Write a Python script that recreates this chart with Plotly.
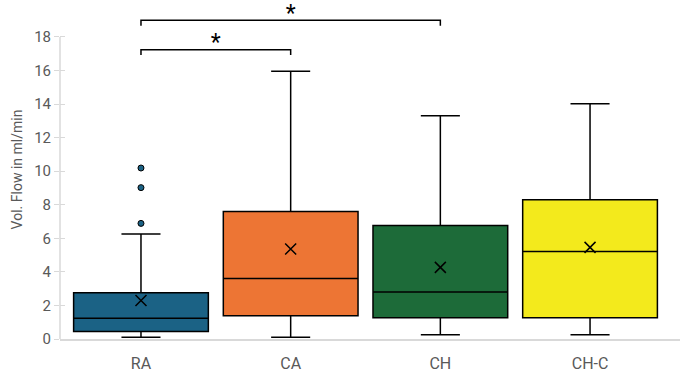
import plotly.graph_objects as go

categories = ["RA", "CA", "CH", "CH-C"]
q1 = [0.45, 1.39, 1.27, 1.27]
medians = [1.23, 3.61, 2.80, 5.22]
q3 = [2.76, 7.60, 6.77, 8.30]
lower_fence = [0.10, 0.10, 0.26, 0.26]
upper_fence = [6.26, 15.95, 13.30, 14.02]
means = [2.30, 5.36, 4.27, 5.46]
outlier_cat = [0, 0, 0]
outlier_vals = [6.89, 9.02, 10.19]
colors = ["#1b6285", "#ed7534", "#1d6b39", "#f3ea1c"]
y_ticks = [0, 2, 4, 6, 8, 10, 12, 14, 16, 18]
# significance brackets: (from index, to index, bracket height, label)
sig_from = [0, 0]
sig_to = [1, 2]
sig_height = [17.24, 18.99]
sig_label = ["*", "*"]

FONT = "Roboto"
GRAY = "#595959"
AXIS = "#d9d9d9"

fig = go.Figure()
for i, c in enumerate(categories):
    fig.add_trace(go.Box(
        x=[i], q1=[q1[i]], median=[medians[i]], q3=[q3[i]],
        lowerfence=[lower_fence[i]], upperfence=[upper_fence[i]],
        width=0.9, whiskerwidth=0.29, fillcolor=colors[i],
        line=dict(color="black", width=1.5), boxpoints=False,
        showlegend=False, hoverinfo="skip", name=c))

fig.add_trace(go.Scatter(
    x=outlier_cat, y=outlier_vals, mode="markers",
    marker=dict(symbol="circle", size=6, color=colors[0], line=dict(color="black", width=1)),
    showlegend=False, hoverinfo="skip"))

fig.add_trace(go.Scatter(
    x=list(range(len(categories))), y=means, mode="markers",
    marker=dict(symbol="x-thin", size=11, line=dict(color="black", width=1.5)),
    showlegend=False, hoverinfo="skip"))

drop = 0.32
for a, b, h, lab in zip(sig_from, sig_to, sig_height, sig_label):
    fig.add_trace(go.Scatter(
        x=[a, a, b, b], y=[h - drop, h, h, h - drop], mode="lines",
        line=dict(color="black", width=1.5), showlegend=False, hoverinfo="skip"))
    fig.add_trace(go.Scatter(
        x=[(a + b) / 2], y=[h + 0.33], mode="text", text=[lab],
        textfont=dict(family=FONT, size=23, color="black"),
        textposition="middle center", showlegend=False, hoverinfo="skip",
        cliponaxis=False))

yr = [0, 339 / 16.78]
fig.update_layout(
    width=680, height=375,
    margin=dict(l=60, r=0, t=0, b=36),
    paper_bgcolor="white", plot_bgcolor="white",
    font=dict(family=FONT, size=14, color=GRAY),
    boxmode="overlay",
    xaxis=dict(range=[-0.541, 3.601], tickvals=list(range(len(categories))),
               ticktext=categories, showgrid=False, zeroline=False,
               showline=True, linecolor=AXIS, linewidth=1.5, ticks="",
               ticklabelstandoff=9, automargin=False,
               tickfont=dict(size=16, color=GRAY)),
    yaxis=dict(range=yr, tickvals=y_ticks, showgrid=False, zeroline=False,
               showline=False, ticks="outside", ticklen=5, tickcolor=AXIS,
               tickwidth=1, tickfont=dict(size=15, color=GRAY), automargin=False,
               title=dict(text="Vol. Flow in ml/min", font=dict(size=14, color=GRAY), standoff=8)),
    yaxis2=dict(range=yr, overlaying="y", side="left", tickvals=y_ticks,
                showgrid=False, zeroline=False, showline=False, ticks="inside",
                ticklen=5, tickcolor=AXIS, tickwidth=1, showticklabels=False,
                automargin=False),
)
# y axis line spanning 0..18 only
fig.add_shape(type="line", xref="paper", yref="y", x0=0, x1=0, y0=0, y1=max(y_ticks),
              line=dict(color=AXIS, width=1.5), layer="below")
fig.add_trace(go.Scatter(x=[None], y=[None], yaxis="y2", showlegend=False))

fig.write_html("out.html", config={"displayModeBar": False},
               post_script="document.body.style.margin='0';")
